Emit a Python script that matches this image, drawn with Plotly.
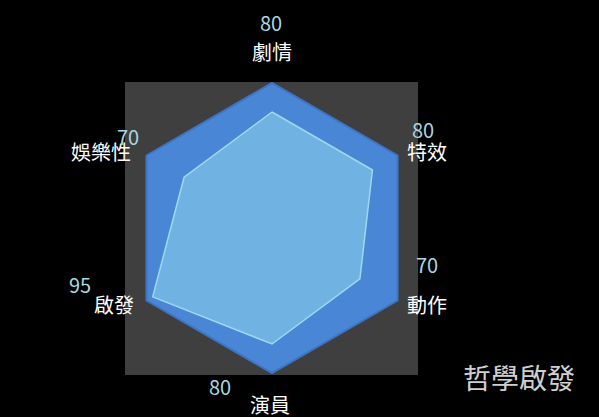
import plotly.graph_objects as go

categories = ["劇情", "特效", "動作", "演員", "啟發", "娛樂性"]
scores = [80, 80, 70, 80, 95, 70]
title_text = "哲學啟發"

W, H = 599, 417
cx, cy, R = 272, 228, 145
FONT = "Noto Sans CJK TC"

fig = go.Figure(go.Scatterpolar(
    r=scores + [scores[0]],
    theta=categories + [categories[0]],
    mode="lines",
    fill="toself",
    fillcolor="#70b2e2",
    line=dict(color="#9fd8ee", width=1.5),
    hoverinfo="skip",
    showlegend=False,
))

fig.update_layout(
    width=W, height=H,
    paper_bgcolor="black",
    plot_bgcolor="black",
    margin=dict(l=0, r=0, t=0, b=0),
    polar=dict(
        domain=dict(x=[(cx - R) / W, (cx + R) / W],
                    y=[(H - cy - R) / H, (H - cy + R) / H]),
        gridshape="linear",
        bgcolor="#4a86d6",
        radialaxis=dict(range=[0, 100], visible=False, showgrid=False),
        angularaxis=dict(
            rotation=90, direction="clockwise",
            showgrid=False, showline=True, linecolor="#3d74c4", linewidth=2,
            ticks="", showticklabels=False,
        ),
    ),
    shapes=[dict(
        type="rect", xref="paper", yref="paper", layer="below",
        x0=125 / W, x1=418 / W, y0=(H - 375) / H, y1=(H - 82) / H,
        fillcolor="#3f3f3f", line=dict(width=0),
    )],
)

# category labels and value labels (positions as in the reference)
cat_pos = [(272, 51), (427, 151), (427, 304), (270, 404), (114, 304), (101, 152)]
value_pos = [(271, 23), (423, 130), (427, 264), (220, 386), (80, 284), (128, 137)]
for c, (px, py) in zip(categories, cat_pos):
    fig.add_annotation(
        x=px / W, y=(H - py) / H, xref="paper", yref="paper",
        text=c, showarrow=False,
        font=dict(family=FONT, size=20, color="white"),
        xanchor="center", yanchor="middle",
    )
for v, (px, py) in zip(scores, value_pos):
    fig.add_annotation(
        x=px / W, y=(H - py) / H, xref="paper", yref="paper",
        text=str(v), showarrow=False,
        font=dict(family=FONT, size=20, color="#a8d8e2"),
        xanchor="center", yanchor="middle",
    )

fig.add_annotation(
    x=519 / W, y=(H - 377) / H, xref="paper", yref="paper",
    text=title_text, showarrow=False,
    font=dict(family=FONT, size=28, color="#d0d0d0"),
    xanchor="center", yanchor="middle",
)

fig.write_html("out.html",
               config={"displayModeBar": False},
               post_script="document.body.style.margin='0';document.body.style.overflow='hidden';")
